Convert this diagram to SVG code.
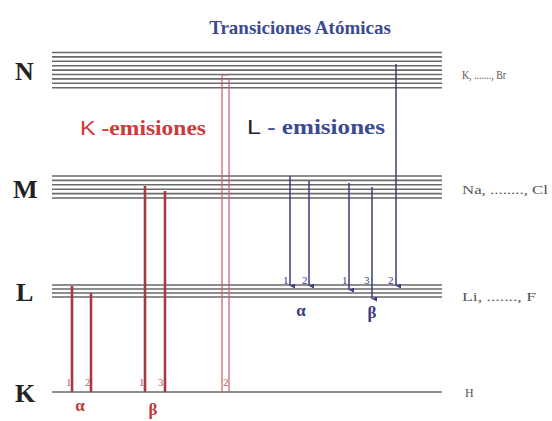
<svg xmlns="http://www.w3.org/2000/svg" width="552" height="421" viewBox="0 0 552 421">
<style>
.lvl{stroke:#6a6a6a;stroke-width:1.6;fill:none}
.big{font-family:"Liberation Serif",serif;font-weight:bold;font-size:26px;fill:#222}
.el{font-family:"Liberation Serif",serif;font-size:12px;fill:#555}
.red{stroke:#a33a44;stroke-width:2.6;fill:none}
.redt{stroke:#c0646a;stroke-width:1.2;fill:none}
.blue{stroke:#3b3b82;stroke-width:1.5;fill:none}
.nr{font-family:"Liberation Serif",serif;font-size:11px;fill:#c05a5a}
.nb{font-family:"Liberation Serif",serif;font-size:11px;fill:#3b3b82}
.gr{font-family:"Liberation Serif",serif;font-weight:bold;font-size:17px;fill:#c03a3a}
.gb{font-family:"Liberation Serif",serif;font-weight:bold;font-size:17px;fill:#3b3b82}
</style>
<defs>
<marker id="ah" viewBox="0 0 6 6" refX="3" refY="6" markerWidth="5" markerHeight="5" markerUnits="userSpaceOnUse" orient="auto-start-reverse">
<path d="M0,0 L6,0 L3,6 Z" fill="#3b3b82"/>
</marker>
</defs>
<rect width="552" height="421" fill="#fff"/>
<text x="300" y="34" text-anchor="middle" font-family="Liberation Serif, serif" font-weight="bold" font-size="19" fill="#3c4a90">Transiciones Atómicas</text>

<g id="level-N">
<path class="lvl" d="M52,52.5H442M52,56.9H442M52,61.3H442M52,65.7H442M52,70.1H442M52,74.5H442M52,78.9H442M52,83.3H442M52,87.7H442"/>
<text class="big" x="15" y="80">N</text>
<text class="el" x="462" y="79" textLength="44" lengthAdjust="spacingAndGlyphs">K, ......., Br</text>
</g>
<g id="level-M">
<path class="lvl" d="M52,176H442M52,180.4H442M52,184.8H442M52,189.2H442M52,193.6H442M52,198H442"/>
<text class="big" x="13" y="198">M</text>
<text class="el" x="462" y="194" textLength="86" lengthAdjust="spacingAndGlyphs">Na, ........, Cl</text>
</g>
<g id="level-L">
<path class="lvl" d="M52,285H442M52,289H442M52,293H442M52,297H442"/>
<text class="big" x="16" y="301">L</text>
<text class="el" x="462" y="301" textLength="74" lengthAdjust="spacingAndGlyphs">Li, ......., F</text>
</g>
<g id="level-K">
<path class="lvl" d="M52,392H442"/>
<text class="big" x="15" y="402">K</text>
<text class="el" x="465" y="397">H</text>
</g>

<g id="labels">
<text x="80" y="135" font-size="21" fill="#cc3a3a" textLength="126" lengthAdjust="spacingAndGlyphs"><tspan font-family="Liberation Sans, sans-serif">K</tspan><tspan font-family="Liberation Serif, serif" font-weight="bold"> -emisiones</tspan></text>
<text x="247" y="134" font-size="21" textLength="138" lengthAdjust="spacingAndGlyphs"><tspan font-family="Liberation Sans, sans-serif" fill="#222">L</tspan><tspan font-family="Liberation Serif, serif" font-weight="bold" fill="#3c4a90"> - emisiones</tspan></text>
</g>

<g id="connectors">
<path class="red" d="M72,286V392M91,293V392M145,186V392M165,191V392"/>
<path class="redt" d="M222,75V392M229,79V392M222,75H229"/>
<path class="blue" marker-end="url(#ah)" d="M290,176V286"/>
<path class="blue" marker-end="url(#ah)" d="M309,181V286"/>
<path class="blue" marker-end="url(#ah)" d="M349,183V290"/>
<path class="blue" marker-end="url(#ah)" d="M372,187V299"/>
<path class="blue" marker-end="url(#ah)" d="M396,64V286"/>
</g>

<g id="k-numbers">
<text class="nr" x="66" y="386">1</text>
<text class="nr" x="85" y="386">2</text>
<text class="nr" x="139" y="386">1</text>
<text class="nr" x="158" y="386">3</text>
<text class="nr" x="223" y="386">2</text>
<text class="gr" x="80" y="411" text-anchor="middle">α</text>
<text class="gr" x="153" y="415" text-anchor="middle">β</text>
</g>
<g id="l-numbers">
<text class="nb" x="283" y="284">1</text>
<text class="nb" x="302" y="284">2</text>
<text class="nb" x="342" y="284">1</text>
<text class="nb" x="364" y="284">3</text>
<text class="nb" x="388" y="284">2</text>
<text class="gb" x="301" y="316" text-anchor="middle">α</text>
<text class="gb" x="372" y="318" text-anchor="middle">β</text>
</g>
</svg>
